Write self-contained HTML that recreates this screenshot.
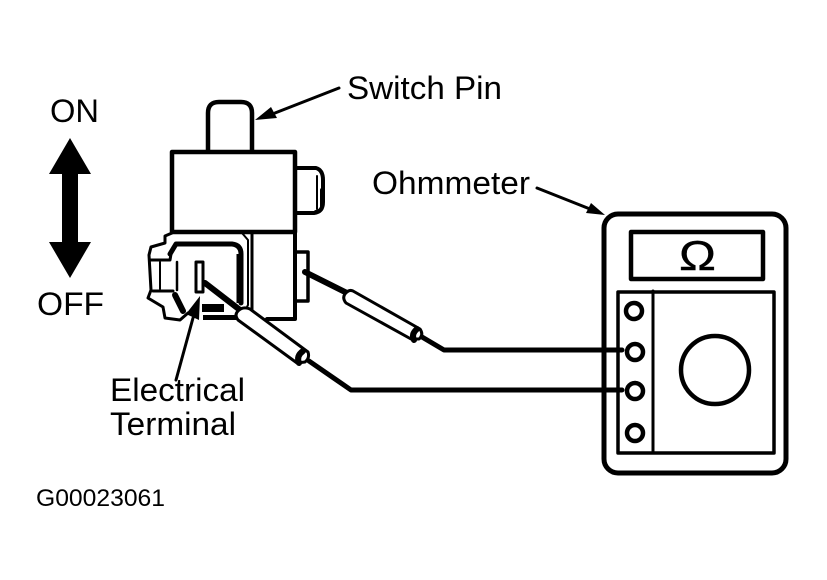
<!DOCTYPE html>
<html>
<head>
<meta charset="utf-8">
<style>
html,body{margin:0;padding:0;background:#fff;width:827px;height:580px;overflow:hidden}
svg{display:block}
text{font-family:"Liberation Sans",sans-serif;fill:#000}
</style>
</head>
<body>
<svg width="827" height="580" viewBox="0 0 827 580" xmlns="http://www.w3.org/2000/svg">
<rect width="827" height="580" fill="#fff"/>
<g fill="none" stroke="#000" stroke-width="4" stroke-linejoin="round" stroke-linecap="round">
  <!-- pin -->
  <path d="M208 151V113Q208 102 219 102H241Q252 102 252 113V151" stroke-width="4.5"/>
  <!-- upper body -->
  <path d="M172 152H295V232H172Z" stroke-width="4.5"/>
  <!-- right nub upper -->
  <path d="M295 168H316Q323 170 323 180V202Q323 212 314 213H295" stroke-width="4"/>
  <path d="M317 176V209" stroke-width="2"/>
  <path d="M322 190V207Q321 211 316 212" stroke-width="4"/>
  <!-- lower body -->
  <path d="M295 232V319H267L262 324"/>
  <path d="M252 233V310" stroke-width="3"/>
  <path d="M295 252H308V301H295" stroke-width="3.5"/>
  <!-- connector outline -->
  <path d="M172 233L165 236V243L151 247L149 255L151 290L148 298L163 307L165 318L180 320L188 313" stroke-width="3"/>
  <path d="M172 233H242L248 240V305L245 311" stroke-width="2"/>
  <path d="M170 254L176 244H232Q241 245 241 254V303" stroke-width="5"/>
  <path d="M240 254V303" stroke-width="7" stroke-linecap="butt"/>
  <path d="M151 260H170L171 254" stroke-width="3"/>
  <path d="M153 291H173" stroke-width="3"/>
  <path d="M175 295L183 311" stroke-width="6"/>
  <path d="M160 262V289" stroke-width="2"/>
  <path d="M177 262V290" stroke-width="2.5"/>
  <!-- terminal -->
  <path d="M196 262H203V292H196Z" stroke-width="3"/>
  <!-- connector bars -->
  <path d="M202 308H224" stroke-width="8" stroke-linecap="butt"/>
  <path d="M203 317.5H238" stroke-width="5" stroke-linecap="butt"/>
  <!-- lower probe -->
  <path d="M205 283L240 310" stroke-width="6"/>
  <path d="M250 309L308 352Q310 358 305 362L297 363L238 320Q234 315 238 311Q243 306 250 309Z" stroke-width="3" fill="#fff"/>
  <path d="M303 351Q296 356 299 363" stroke-width="6"/>
  <path d="M309 361L351 390H622" stroke-width="5"/>
  <!-- upper probe -->
  <path d="M305 272L347 293" stroke-width="6"/>
  <path d="M353 291L420 329Q424 335 419 339L411 339L346 303Q342 298 345 294Q349 289 353 291Z" stroke-width="3" fill="#fff"/>
  <path d="M417 329Q411 334 414 340" stroke-width="6"/>
  <path d="M422 337L444 350H622" stroke-width="5"/>
  <!-- meter -->
  <rect x="604" y="214" width="182" height="259" rx="14" stroke-width="5"/>
  <rect x="631" y="232" width="132" height="47" stroke-width="4.5"/>
  <rect x="618" y="292" width="156" height="161" stroke-width="3.5"/>
  <path d="M653 291V453" stroke-width="3"/>
  <circle cx="634" cy="311" r="8" stroke-width="4.5" fill="#fff"/>
  <circle cx="635" cy="352" r="8" stroke-width="4.5" fill="#fff"/>
  <circle cx="635" cy="391" r="8" stroke-width="4.5" fill="#fff"/>
  <circle cx="635" cy="433" r="8" stroke-width="4.5" fill="#fff"/>
  <circle cx="715" cy="370" r="34" stroke-width="4.5" fill="#fff"/>
  <!-- leader lines -->
  <path d="M339 88L275 113" stroke-width="3"/>
  <path d="M537 188L590 209" stroke-width="3"/>
  <path d="M193 318L176 380" stroke-width="3"/>
</g>
<g fill="#000">
  <!-- arrowheads -->
  <path d="M255 120L271 107L277 118Z"/>
  <path d="M605 215L586 213L591 203Z"/>
  <path d="M200 296L199 320L186 314Z"/>
  <!-- ON/OFF double arrow -->
  <path d="M70 138L91 174H78V242H91L70 278L49 242H62V174H49Z"/>
</g>
<text x="679" y="270" font-size="42" textLength="37" lengthAdjust="spacingAndGlyphs" stroke="#000" stroke-width="0.4">Ω</text>
<text x="347" y="99" font-size="32" textLength="155" lengthAdjust="spacingAndGlyphs">Switch Pin</text>
<text x="372" y="194" font-size="32" textLength="158" lengthAdjust="spacingAndGlyphs">Ohmmeter</text>
<text x="50" y="122" font-size="32" textLength="49" lengthAdjust="spacingAndGlyphs">ON</text>
<text x="37" y="315" font-size="32" textLength="67" lengthAdjust="spacingAndGlyphs">OFF</text>
<text x="110" y="401" font-size="32" textLength="135" lengthAdjust="spacingAndGlyphs">Electrical</text>
<text x="110" y="435" font-size="32" textLength="126" lengthAdjust="spacingAndGlyphs">Terminal</text>
<text x="36" y="506" font-size="24" textLength="129" lengthAdjust="spacingAndGlyphs">G00023061</text>
</svg>
</body>
</html>
